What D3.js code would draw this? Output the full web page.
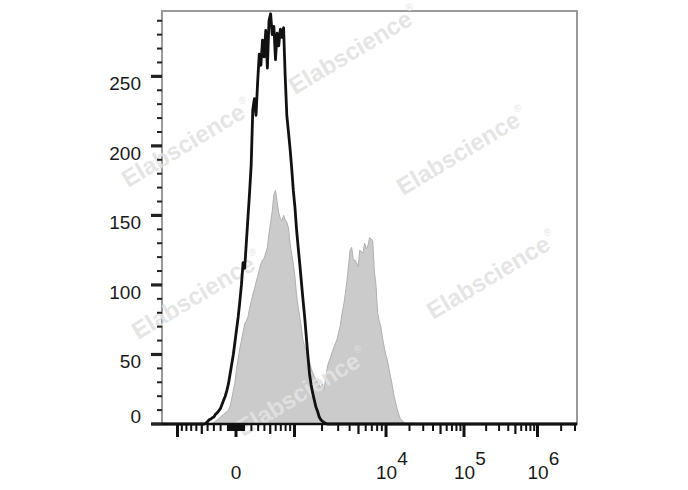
<!DOCTYPE html>
<html><head><meta charset="utf-8">
<script src="https://cdn.jsdelivr.net/npm/d3@7"></script>
<style>body{margin:0;background:#fff;} svg{display:block;}</style>
</head><body><svg id="c" width="688" height="490"></svg>
<script>
// ---------------- data ----------------
const binCount = 256;                 // display channels of the histogram
const blackStart = 26;                // first channel listed for the black (control) histogram
const blackCounts = [0,0.5,1.5,3,3.5,4.5,5,7,8,9.5,11,14,17,20,24,29,36,43,50,59,68,77,88,100,
  116,112,130,148,166,186,226,234,222,246,266,258,276,264,283,256,290,295,280,286,262,281,272,284,278,285,
  250,222,210,198,184,168,156,140,127,115,102,89,77,63,49,36,28,22,17,12,9,5,3,2,1,0.5,0];
const grayStart = 31;                 // first channel listed for the grey (stained) histogram
const grayCounts = [0.5,1,2,3,4,5,6,7,8,9,10,13,18,24,30,40,47,54,60,66,72,74,77,83,88,93,97,102,106,111,
  115,118,119,123,127,137,145,153,165,168,160,152,148,146,150,147,145,141,130,122,115,106,93,84,77,69,60,56,53,48,
  45,40,37,34,32,30,28,26,29,25,33,41,45,48,52,55,58,61,66,71,79,85,93,102,113,125,127,118,118,116,
  113,125,124,123,130,126,128,134,133,132,110,100,80,74,70,62,56,50,46,40,34,28,21,16,11,7,4,2.5,1.5,0.5,
  0.5,0,0,1,0.5,0];
const yMajorTicks = [0,50,100,150,200,250];
const yMinorTicks = [10,20,30,40,60,70,80,90,110,120,130,140,160,170,180,190,210,220,230,240,260,270,280,290];
const xMajorTicks = [-1000,0,1000,1e4,1e5,1e6];
const xMediumTicks = [-500,500,5e3,5e4,5e5];
const xMinorTicks = [];
[10,100].forEach(d=>{for(let m=1;m<=9;m++){ if(m!==5||d===10){xMinorTicks.push(m*d,-m*d);} }});
[1e3,1e4,1e5].forEach(d=>{for(let m=2;m<=9;m++){ if(m!==5) xMinorTicks.push(m*d);} });
xMinorTicks.push(2e6,3e6);
const xLabelValues = [0,1e4,1e5,1e6];
const xLabelBase = ["0","10","10","10"];
const xLabelExp = ["","4","5","6"];
const watermark = "Elabscience";
const watermarkSpots = [[128,188],[295,95],[403,196],[433,320],[243,437],[138,340]];

// ---------------- layout ----------------
const L=162, R=577, T=11, B=424;
const svg = d3.select("#c");

const xBin = d3.scaleLinear().domain([0,binCount]).range([L,R]);
// biexponential display transform: value -> channel
const lowT = d3.scaleSymlog().constant(1000).domain([-1000,1000]).range([9.56,81.74]);
const highT = d3.scaleLog().domain([1e3,1e4,1e5,1e6,1e7]).range([81.74,138.19,186.30,231.65,280.07]);
const toBin = v => v <= 1000 ? lowT(v) : highT(v);
const xv = v => xBin(toBin(v));

const y = d3.scaleLinear().domain([0,297]).range([B,T]);

function expand(start, counts){
  const out=[];
  for(let b=0;b<=binCount;b++){
    const i=b-start;
    out.push({b, c: (i>=0 && i<counts.length)? counts[i] : 0});
  }
  return out;
}
const blackSeries = expand(blackStart, blackCounts);
const graySeries = expand(grayStart, grayCounts);

// frame
svg.append("rect").attr("x",L).attr("y",T).attr("width",R-L).attr("height",B-T)
  .attr("fill","none").attr("stroke","#9a9a9a").attr("stroke-width",2);

// grey filled histogram
const area = d3.area().x(d=>xBin(d.b)).y0(y(0)).y1(d=>y(d.c));
svg.append("path").datum(graySeries).attr("d",area)
  .attr("fill","#cbcbcb").attr("stroke","#b0b0b0").attr("stroke-width",1);

// watermarks
const wm = svg.append("g");
watermarkSpots.forEach(p=>{
  const t = wm.append("text").attr("transform",`translate(${p[0]},${p[1]}) rotate(-31)`)
    .attr("font-family","'Liberation Sans', Arial, sans-serif").attr("font-weight","bold")
    .attr("font-size",24).attr("fill","#e2e2e2").attr("fill-opacity",0.88);
  t.append("tspan").text(watermark);
  t.append("tspan").attr("font-size",10).attr("font-weight","normal").attr("dy",-13).attr("dx",1).text("®");
});

// black histogram line
const line = d3.line().x(d=>xBin(d.b)).y(d=>y(d.c));
svg.append("path").datum(blackSeries).attr("d",line)
  .attr("fill","none").attr("stroke","#111").attr("stroke-width",2.8).attr("stroke-linejoin","round");

// x axis line
svg.append("line").attr("x1",151).attr("x2",R).attr("y1",B).attr("y2",B)
  .attr("stroke","#111").attr("stroke-width",2.5);

function xTicks(vals,len,w){
  svg.append("g").selectAll("line").data(vals).join("line")
    .attr("x1",d=>xv(d)).attr("x2",d=>xv(d)).attr("y1",B).attr("y2",B+len)
    .attr("stroke","#111").attr("stroke-width",w);
}
xTicks(xMinorTicks,7,2);
xTicks(xMediumTicks,10,2.2);
xTicks(xMajorTicks,13,3);

function yTicks(vals,len,w){
  svg.append("g").selectAll("line").data(vals).join("line")
    .attr("x1",L-len).attr("x2",L).attr("y1",d=>y(d)).attr("y2",d=>y(d))
    .attr("stroke","#222").attr("stroke-width",w);
}
yTicks(yMinorTicks,5,2);
yTicks(yMajorTicks,11,3.2);

const font = "'Liberation Sans', Arial, Helvetica, sans-serif";
svg.append("g").selectAll("text").data(yMajorTicks).join("text")
  .attr("x",141).attr("y",d=> d===0 ? y(d)-1 : y(d)+14)
  .attr("text-anchor","end").attr("font-family",font).attr("font-size",19).attr("fill","#1a1a1a")
  .text(d=>d);

xLabelValues.forEach((v,i)=>{
  const g = svg.append("text").attr("x",xv(v)).attr("y",479)
    .attr("font-family",font).attr("font-size",19).attr("fill","#1a1a1a");
  if(xLabelExp[i]===""){
    g.attr("text-anchor","middle").text(xLabelBase[i]);
  } else {
    g.attr("text-anchor","start").attr("x",xv(v)-10);
    g.append("tspan").text(xLabelBase[i]);
    g.append("tspan").attr("dy",-14).text(xLabelExp[i]);
  }
});
</script>
</body></html>
